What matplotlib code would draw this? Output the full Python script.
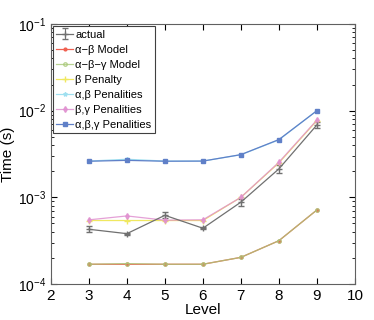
import numpy as np
import matplotlib.pyplot as plt

plt.rcParams['font.family'] = ['Liberation Sans', 'DejaVu Sans']
plt.rcParams['mathtext.default'] = 'regular'

levels = [3, 4, 5, 6, 7, 8, 9]

actual = [4.28e-4, 3.81e-4, 6.2e-4, 4.4e-4, 8.8e-4, 2.13e-3, 6.85e-3]
actual_err = [0.35e-4, 0.1e-4, 0.5e-4, 0.1e-4, 0.8e-4, 0.2e-3, 0.6e-3]
ab_model = [1.69e-4, 1.69e-4, 1.69e-4, 1.69e-4, 2.03e-4, 3.16e-4, 7.15e-4]
abg_model = [1.69e-4, 1.72e-4, 1.69e-4, 1.69e-4, 2.03e-4, 3.16e-4, 7.15e-4]
b_pen = [5.4e-4, 5.4e-4, 5.4e-4, 5.4e-4, 1.0e-3, 2.5e-3, 7.7e-3]
ab_pen = [2.62e-3, 2.75e-3, 2.62e-3, 2.62e-3, 3.1e-3, 4.6e-3, 1.0e-2]
bg_pen = [5.5e-4, 6.1e-4, 5.45e-4, 5.5e-4, 1.0e-3, 2.54e-3, 7.8e-3]
abg_pen = [2.61e-3, 2.67e-3, 2.61e-3, 2.62e-3, 3.11e-3, 4.64e-3, 1.0e-2]

fig = plt.figure(figsize=(3.74, 3.2), dpi=100)
ax = fig.add_axes([0.136, 0.1125, 0.813, 0.8125])

h0 = ax.errorbar(levels, actual, yerr=actual_err, color='#707070', marker='+', ms=4,
                 lw=0.9, capsize=2.5, elinewidth=0.8, label='actual')
ax.plot(levels, ab_model, color='#f06050', marker='.', ms=4, lw=0.9, label='α−β Model')
ax.plot(levels, abg_model, color='#a8c878', marker='o', ms=2.5, mfc='none', lw=0.9,
        alpha=0.8, label='α−β−γ Model')
ax.plot(levels, b_pen, color='#f0e860', marker='+', ms=4, lw=0.9, label='β Penalty')
ax.plot(levels, ab_pen, color='#a0e0f0', marker='*', ms=3, lw=0.9, label='α,β Penalities')
ax.plot(levels, bg_pen, color='#e090d0', marker='d', ms=3, lw=0.9, alpha=0.85,
        label='β,γ Penalities')
ax.plot(levels, abg_pen, color='#6080c8', marker='s', ms=2.5, lw=0.9,
        label='α,β,γ Penalities')

ax.set_yscale('log')
ax.set_xlim(2, 10)
ax.set_ylim(1e-4, 1e-1)
ax.set_xticks(range(2, 11))
ax.tick_params(which='both', direction='in', top=True, right=True)
ax.tick_params(axis='x', labelsize=11)
ax.tick_params(axis='y', labelsize=10)
ax.tick_params(which='major', length=4)
ax.tick_params(which='minor', length=2)
ax.set_xlabel('Level', fontsize=11, labelpad=0)
ax.set_ylabel('Time (s)', fontsize=11, labelpad=2)
for s in ax.spines.values():
    s.set_color('#606060')

handles, labels = ax.get_legend_handles_labels()
# errorbar handle comes last, put "actual" first
handles = handles[-1:] + handles[:-1]
labels = labels[-1:] + labels[:-1]
leg = ax.legend(handles, labels, loc='upper left', fontsize=8, handlelength=1.5,
                handletextpad=0.2, labelspacing=0.45, borderpad=0.3, borderaxespad=0.2,
                fancybox=False, framealpha=1)
leg.get_frame().set_edgecolor('#404040')
leg.get_frame().set_linewidth(0.8)

fig.savefig('out.png', dpi=100)
